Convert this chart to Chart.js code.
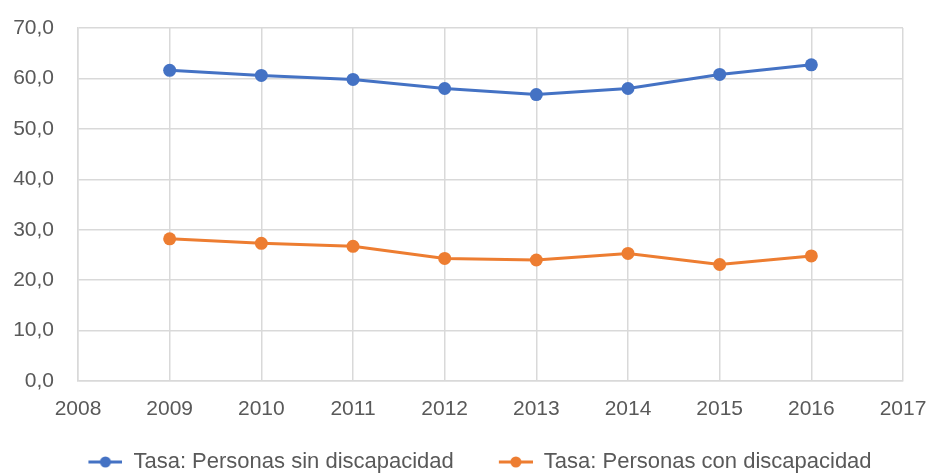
<!DOCTYPE html>
<html>
<head>
<meta charset="utf-8">
<script src="https://cdn.jsdelivr.net/npm/chart.js@4.4.1/dist/chart.umd.min.js"></script>
<style>
  html, body { margin: 0; padding: 0; background: #ffffff; }
  #wrap { width: 928px; height: 473px; position: relative; }
</style>
</head>
<body>
<div id="wrap"><canvas id="c" width="928" height="473"></canvas></div>
<script>
const years = [2009, 2010, 2011, 2012, 2013, 2014, 2015, 2016];
const sinDiscapacidad = [61.6, 60.6, 59.8, 58.0, 56.8, 58.0, 60.8, 62.7];
const conDiscapacidad = [28.2, 27.3, 26.7, 24.3, 24.0, 25.3, 23.1, 24.8];
const seriesNames = ['Tasa: Personas sin discapacidad', 'Tasa: Personas con discapacidad'];
const xRange = [2008, 2017];
const yRange = [0, 70];

const BLUE = '#4472C4';
const ORANGE = '#ED7D31';
const GRID = '#d9d9d9';
const TEXT = '#595959';
const FONT = "'Liberation Sans', Arial, sans-serif";

const ICON_GAP = 45;
function legendIcon(color) {
  const cv = document.createElement('canvas');
  cv.width = 34 + ICON_GAP; cv.height = 14;
  const ctx = cv.getContext('2d');
  ctx.strokeStyle = color;
  ctx.lineWidth = 3;
  ctx.beginPath(); ctx.moveTo(ICON_GAP, 7); ctx.lineTo(ICON_GAP + 34, 7); ctx.stroke();
  ctx.fillStyle = color;
  ctx.beginPath(); ctx.arc(ICON_GAP + 17, 7, 5.5, 0, Math.PI * 2); ctx.fill();
  return cv;
}
const icons = [legendIcon(BLUE), legendIcon(ORANGE)];

const toPoints = arr => arr.map((v, i) => ({ x: years[i], y: v }));

const legendTrim = {
  id: 'legendTrim',
  beforeLayout(chart) {
    const lg = chart.legend;
    if (lg && !lg._trimmed) {
      const fit = lg.fit.bind(lg);
      lg.fit = function () { fit(); this.height -= 10; };
      lg._trimmed = true;
    }
  }
};

new Chart(document.getElementById('c'), {
  type: 'line',
  data: {
    datasets: [
      {
        label: seriesNames[0], data: toPoints(sinDiscapacidad),
        borderColor: BLUE, backgroundColor: BLUE, borderWidth: 3,
        pointRadius: 6.5, pointHoverRadius: 6.5, pointBackgroundColor: BLUE, pointBorderWidth: 0,
        tension: 0
      },
      {
        label: seriesNames[1], data: toPoints(conDiscapacidad),
        borderColor: ORANGE, backgroundColor: ORANGE, borderWidth: 3,
        pointRadius: 6.5, pointHoverRadius: 6.5, pointBackgroundColor: ORANGE, pointBorderWidth: 0,
        tension: 0
      }
    ]
  },
  plugins: [legendTrim],
  options: {
    responsive: false,
    animation: false,
    layout: { padding: { top: 28, left: 12, right: 25, bottom: 0 } },
    plugins: {
      tooltip: { enabled: false },
      legend: {
        position: 'bottom',
        labels: {
          font: { family: FONT, size: 22 },
          color: TEXT,
          usePointStyle: true,
          pointStyleWidth: 34 + ICON_GAP,
          padding: 0,
          generateLabels: chart => chart.data.datasets.map((ds, i) => ({
            text: ds.label, fillStyle: ds.borderColor, strokeStyle: ds.borderColor,
            pointStyle: icons[i], datasetIndex: i, hidden: false, lineWidth: 0, fontColor: TEXT
          }))
        }
      }
    },
    scales: {
      x: {
        type: 'linear', min: xRange[0], max: xRange[1],
        ticks: { stepSize: 1, color: TEXT, font: { family: FONT, size: 21 }, padding: 16,
                 callback: v => String(v) },
        grid: { color: GRID, lineWidth: 1.5, drawTicks: false },
        border: { color: GRID, width: 1.5 },
        afterFit: s => { s.height = 70; s.paddingLeft = 0; s.paddingRight = 0; }
      },
      y: {
        min: yRange[0], max: yRange[1],
        ticks: { stepSize: 10, color: TEXT, font: { family: FONT, size: 21 }, padding: 24,
                 callback: v => Number(v).toFixed(1).replace('.', ',') },
        grid: { color: GRID, lineWidth: 1.5, drawTicks: false },
        border: { color: GRID, width: 1.5 },
        afterFit: s => { s.width = 66; s.paddingTop = 0; s.paddingBottom = 0; }
      }
    }
  }
});
</script>
</body>
</html>
